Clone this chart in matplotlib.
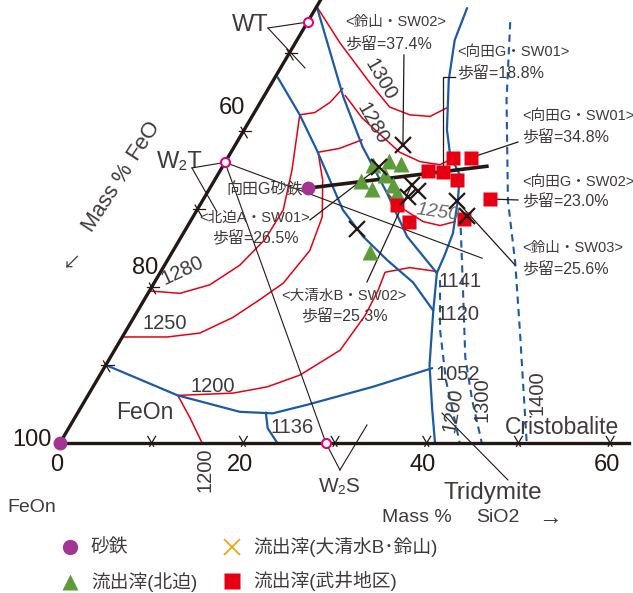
import numpy as np
import matplotlib.pyplot as plt

plt.rcParams['font.family'] = ['Liberation Sans', 'Noto Sans CJK JP', 'DejaVu Sans']

INK = '#231815'
TEXT = '#3e3a39'
BLUE = '#1c5aa6'
RED = '#e60012'
GREEN = '#5e9b3a'
PURPLE = '#a23592'
MAGENTA = '#e4007f'
ORANGE = '#f2a516'

# compositions in mass % : SiO2, FeO (remainder Fe2O3)
sand_iron_sio2 = [0.0, 10.7]
sand_iron_feo = [100.0, 56.6]

kitasako_sio2 = [16.3, 17.8, 19.3, 16.0, 17.7, 18.2, 19.8, 20.7, 21.6]
kitasako_feo = [48.0, 46.0, 44.9, 50.4, 49.7, 47.4, 47.1, 47.2, 53.9]

oshimizu_suzuyama_sio2 = [18.3, 17.1, 21.8, 22.9, 22.2, 27.8, 29.8, 18.7]
oshimizu_suzuyama_feo = [43.5, 47.5, 45.1, 44.8, 46.3, 41.2, 41.1, 53.9]

takei_sio2 = [24.6, 26.5, 22.7, 24.4, 26.4, 31.2, 29.7, 21.5, 23.9]
takei_feo = [38.9, 36.9, 42.4, 40.8, 39.8, 37.5, 41.6, 48.0, 47.8]

compound_names = ['WT', 'W2T', 'W2S']
compound_sio2 = [0.0, 0.0, 29.0]
compound_feo = [46.0, 64.0, 71.0]

# phase boundaries (SiO2, FeO)
blue_a = [(0.3, 52.8), (5.1, 52.8), (9.2, 53.2), (15.9, 54.2), (19.8, 53.7),
          (23.9, 52.6), (28.2, 51.2), (32.2, 50.8)]
blue_b = [(0.0, 44.0), (8.7, 46.9), (14.0, 48.0), (19.6, 48.3), (24.6, 48.9), (30.2, 48.0)]
blue_c = [(16.5, 27.7), (17.2, 31.1), (19.1, 34.3), (22.1, 37.7), (24.1, 39.0), (26.4, 39.2),
          (27.8, 41.0), (29.4, 43.7), (29.9, 46.0), (30.2, 48.0), (32.3, 50.9), (35.3, 54.7),
          (38.5, 57.3), (40.9, 59.1)]
blue_d = [(0.0, 90.0), (9.8, 84.1), (17.6, 78.4), (21.3, 74.9), (24.5, 70.6), (30.5, 62.3), (35.8, 54.6)]
blue_e = [(20.5, 75.6), (21.7, 76.4), (23.7, 76.3)]

# silica isotherms
silica_1400 = [(22.1, 23.9), (26.7, 29.3), (33.3, 35.6), (38.1, 38.8), (42.9, 42.6), (50.9, 49.1)]
silica_1300 = [(29.9, 42.5), (34.1, 46.2), (38.7, 50.3), (42.2, 52.3), (46.0, 54.0)]
silica_1200 = [(31.0, 48.1), (34.2, 51.3), (38.1, 53.9), (43.6, 56.4)]

# liquidus isotherms
red_1300 = [(0.0, 44.0), (4.9, 43.8), (10.7, 43.1), (14.4, 42.5), (17.1, 40.8), (19.4, 38.7), (20.7, 36.3)]
red_1280_left = [(0.0, 80.5), (3.5, 77.3), (6.2, 73.5), (8.2, 69.0), (9.3, 64.6), (9.4, 60.7),
                 (7.8, 57.2), (5.1, 52.8)]
red_1280_mid = [(5.1, 52.8), (6.6, 51.0), (7.6, 48.7), (8.1, 46.4)]
red_1280_right = [(8.8, 46.6), (12.1, 46.2), (15.1, 45.3), (18.4, 44.3), (21.2, 42.7), (23.6, 40.7), (24.3, 39.4)]
red_1250_left = [(0.0, 86.4), (4.9, 81.5), (8.2, 77.7), (10.8, 73.1), (12.6, 69.0), (14.1, 65.4),
                 (14.9, 60.4), (14.1, 56.9), (11.8, 54.5), (9.5, 53.2)]
red_1250_mid = [(9.5, 53.2), (11.6, 50.6), (13.5, 47.6)]
red_1250_right = [(19.6, 48.3), (21.9, 47.8), (25.4, 46.2), (27.5, 44.6), (28.9, 42.7)]
red_1200 = [(9.8, 84.1), (15.7, 77.9), (19.0, 73.8), (21.8, 69.5), (24.6, 63.5), (25.1, 58.5),
            (24.9, 55.5), (24.5, 53.6), (26.9, 50.6), (30.1, 47.9)]
red_1200_foot = [(9.8, 84.1), (12.5, 84.2), (15.5, 84.5)]

# tie lines
w2t_tie_end = (34.2, 42.1)
sand_line_end = (28.8, 35.7)

axis_ticks = [10, 20, 30, 40, 50, 60]
feo_ticks = [90, 80, 70, 60, 50]


def tern(sio2, feo):
    sio2 = np.asarray(sio2, dtype=float)
    feo = np.asarray(feo, dtype=float)
    fe2o3 = 100.0 - feo - sio2
    return sio2 + fe2o3 / 2.0, fe2o3 * np.sqrt(3) / 2.0


def curve(ax, pts, **kw):
    s, f = zip(*pts)
    x, y = tern(s, f)
    ax.plot(x, y, solid_capstyle='round', **kw)


fig = plt.figure(figsize=(6.33, 5.93), dpi=100)
ax = fig.add_axes([0, 0, 1, 1])
ax.set_xlim(-6.54, 62.49)
ax.set_ylim(-16.67, 49.22)
ax.axis('off')

for pts in [red_1300, red_1280_left, red_1280_mid, red_1280_right, red_1250_left,
            red_1250_mid, red_1250_right, red_1200, red_1200_foot]:
    curve(ax, pts, color=RED, lw=1.1, zorder=2)

for pts in [blue_a, blue_b, blue_c, blue_d, blue_e]:
    curve(ax, pts, color=BLUE, lw=1.6, zorder=3)

for pts in [silica_1400, silica_1300, silica_1200]:
    curve(ax, pts, color=BLUE, lw=1.5, ls=(0, (3.5, 2.5)), zorder=3)

# tie lines
wx, wy = tern(compound_sio2, compound_feo)
ex, ey = tern(*w2t_tie_end)
ax.plot([wx[1], ex], [wy[1], ey], color=INK, lw=0.8, zorder=4)
ax.plot([wx[1], wx[2]], [wy[1], wy[2]], color=INK, lw=0.8, zorder=4)
sx, sy = tern(sand_iron_sio2, sand_iron_feo)
lx, ly = tern(*sand_line_end)
ax.plot([sx[1], lx], [sy[1], ly], color=INK, lw=2.6, zorder=6)

# triangle edges and ticks
x0, y0 = tern([0, 0], [100, 43])
ax.plot(x0, y0, color=INK, lw=2.4, zorder=5)
x1, y1 = tern([0, 62], [100, 38])
ax.plot(x1, y1, color=INK, lw=2.4, zorder=5)
h = 0.85
for v in axis_ticks:
    cx, cy = tern(v, 100 - v)
    for dx, dy in [(0.5, 0.866), (-0.5, 0.866)]:
        ax.plot([cx - dx * h * 0.5, cx + dx * h], [cy - dy * h * 0.5, cy + dy * h], color=INK, lw=0.9, zorder=5)
for v in feo_ticks:
    cx, cy = tern(0, v)
    for dx, dy in [(1.0, 0.0), (0.5, -0.866)]:
        ax.plot([cx - dx * h * 0.6, cx + dx * h], [cy - dy * h * 0.6, cy + dy * h], color=INK, lw=0.9, zorder=5)

# markers
kx, ky = tern(kitasako_sio2, kitasako_feo)
ax.plot(kx, ky, '^', ms=11, color=GREEN, mec='none', zorder=7)
tx, ty = tern(takei_sio2, takei_feo)
ax.plot(tx, ty, 's', ms=10, color=RED, mec='none', zorder=7)
ox, oy = tern(oshimizu_suzuyama_sio2, oshimizu_suzuyama_feo)
ax.plot(ox, oy, 'x', ms=11, mew=1.6, color=INK, zorder=8)
ax.plot(sx, sy, 'o', ms=10, color=PURPLE, mec='none', zorder=8)
ax.plot(wx, wy, 'o', ms=6.5, mfc='white', mec=MAGENTA, mew=1.5, zorder=8)

# label pointers for the compounds
for (px, py), (qx, qy) in [((22.68, 46.11), (wx[0], wy[0])), ((22.68, 46.11), (26.72, 41.67)),
                           ((14.39, 30.56), (wx[1], wy[1])), ((14.39, 30.56), (17.12, 25.67)),
                           ((30.53, -3.0), (wx[2], wy[2])), ((30.53, -3.0), (33.48, 2.0)),
                           ((41.66, 3.33), (48.85, -4.11))]:
    ax.plot([px, qx], [py, qy], color=INK, lw=0.8, zorder=4)

# yield annotations
ann = [
    ('<鈴山・SW02>', '歩留=37.4%', 31.08, 46.78, 44.22, 'left', (37.51, 43.11), None, (ox[0], oy[0])),
    ('<向田G・SW01>', '歩留=18.8%', 43.29, 43.44, 41.0, 'left', (43.08, 40.67), (tx[3], 40.67), (tx[3], ty[3])),
    ('<向田G・SW01>', '歩留=34.8%', 50.38, 36.33, 33.89, 'left', (49.95, 33.44), None, (tx[1], ty[1])),
    ('<向田G・SW02>', '歩留=23.0%', 50.38, 29.0, 26.78, 'left', (49.95, 27.0), None, (tx[5], ty[5])),
    ('<鈴山・SW03>', '歩留=25.6%', 50.38, 21.67, 19.22, 'left', (49.62, 19.78), None, (ox[5], oy[5])),
    ('<大清水B・SW02>', '歩留=25.3%', 30.97, 16.33, 14.0, 'center', (33.48, 17.89), None, (ox[2], oy[2])),
    ('<北迫A・SW01>', '歩留=26.5%', 21.27, 25.0, 22.67, 'center', (27.26, 24.78), None, (ox[1], oy[1])),
]
for head, yld, x, y1_, y2_, ha, start, elbow, end in ann:
    ax.text(x, y1_, head, fontsize=10.5, color=TEXT, ha=ha, va='center', zorder=9)
    ax.text(x, y2_, yld, fontsize=11.5, color=TEXT, ha=ha, va='center', zorder=9)
    pts = [start] + ([elbow] if elbow else []) + [end]
    ax.plot([p[0] for p in pts], [p[1] for p in pts], color=INK, lw=0.9, zorder=6)

ax.text(22.36, 28.11, '向田G砂鉄', fontsize=11.5, color=TEXT, ha='center', va='center', zorder=9)

# axis numbers
for txt, x, y in [('60', 18.76, 37.22), ('80', 9.27, 19.44), ('100', -3.05, 0.33)]:
    ax.text(x, y, txt, fontsize=17, color=INK, ha='center', va='center')
for v in [0, 20, 40, 60]:
    cx, _ = tern(v, 100 - v)
    ax.text(cx - 0.4, -2.44, str(v), fontsize=17, color=INK, ha='center', va='center')

ax.text(9.05, 33.67, 'FeO', fontsize=16, color=TEXT, rotation=57, ha='center', va='center')
ax.text(5.23, 27.22, 'Mass %', fontsize=15.5, color=TEXT, rotation=57, ha='center', va='center')
ax.text(1.31, 19.78, '↙', fontsize=13, color=TEXT, ha='center', va='center')

ax.text(20.72, 46.44, 'WT', fontsize=17, color=TEXT, ha='center', va='center')
ax.text(13.09, 31.22, 'W₂T', fontsize=17, color=TEXT, ha='center', va='center')
ax.text(30.53, -4.89, 'W₂S', fontsize=15, color=TEXT, ha='center', va='center')
ax.text(9.27, 3.44, 'FeOn', fontsize=16.5, color=TEXT, ha='center', va='center')
ax.text(54.74, 1.67, 'Cristobalite', fontsize=16.5, color=TEXT, ha='center', va='center')
ax.text(47.2, -5.56, 'Tridymite', fontsize=17.5, color=TEXT, ha='center', va='center')

# isotherm labels
iso = [('1280', 13.30, 19.11, 25), ('1250', 11.45, 13.22, 0), ('1200', 16.68, 6.22, 0),
       ('1136', 25.30, 1.67, 0), ('1141', 43.62, 17.89, 0), ('1120', 43.40, 14.33, 0),
       ('1052', 43.40, 7.56, 0), ('1200', 42.86, 3.67, 80), ('1300', 46.02, 4.78, 90),
       ('1400', 52.02, 5.56, 90), ('1300', 34.9, 40.4, -60), ('1280', 34.1, 35.5, -60),
       ('1200', 15.81, -3.0, 90)]
for txt, x, y, rot in iso:
    ax.text(x, y, txt, fontsize=14.5, color=TEXT, rotation=rot, ha='center', va='center', zorder=9)
ax.text(41.22, 25.56, '1250', fontsize=14, color='#6b6b6b', rotation=-8, style='italic',
        ha='center', va='center', zorder=9)

# bottom axis caption
ax.text(-3.05, -7.22, 'FeOn', fontsize=14, color=TEXT, ha='center', va='center')
ax.text(38.9, -8.33, 'Mass %', fontsize=14, color=TEXT, ha='center', va='center')
ax.text(47.7, -8.33, 'SiO2', fontsize=14, color=TEXT, ha='center', va='center')
ax.text(53.4, -8.33, '→', fontsize=17, color=TEXT, ha='center', va='center')

# legend
W, H = 633.0, 593.0
leg = [((70, 547), 'o', PURPLE, '砂鉄'), ((70, 582), '^', GREEN, '流出滓(北迫)'),
       ((232, 547), 'x', ORANGE, '流出滓(大清水B･鈴山)'), ((232, 581), 's', RED, '流出滓(武井地区)')]
for (px, py), m, c, lab in leg:
    if m == 'x':
        fig.lines.append(plt.Line2D([px / W], [1 - py / H], marker='x', ms=12, mew=1.3, color=c,
                                    transform=fig.transFigure))
    else:
        fig.lines.append(plt.Line2D([px / W], [1 - py / H], marker=m, ms=11, color=c, mec='none',
                                    ls='none', transform=fig.transFigure))
    fig.text((px + 21) / W, 1 - py / H, lab, fontsize=13.5, color=TEXT, ha='left', va='center')

fig.savefig('out.png', dpi=100)
